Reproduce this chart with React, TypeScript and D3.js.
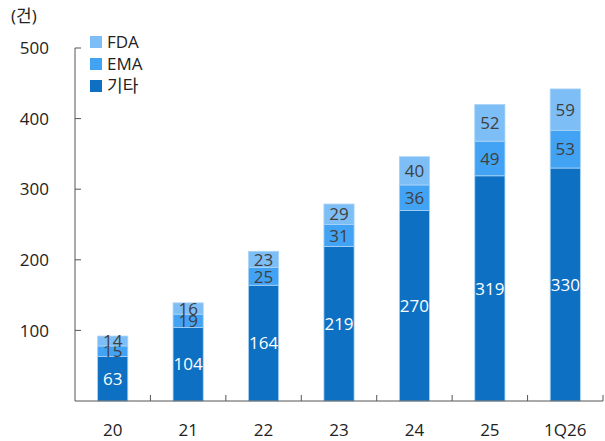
import * as d3 from "d3";
import { useEffect, useRef } from "react";

const categories = ["20", "21", "22", "23", "24", "25", "1Q26"];
const etc = [63, 104, 164, 219, 270, 319, 330];
const ema = [15, 19, 25, 31, 36, 49, 53];
const fda = [14, 16, 23, 29, 40, 52, 59];
const yTicks = [100, 200, 300, 400, 500];

const seriesNames = ["기타", "EMA", "FDA"];
const colors = ["#0e70c2", "#42a3f4", "#7ebef6"];
const labelColors = ["#ffffff", "#404040", "#404040"];

const FONT = "'Open Sans', 'Noto Sans CJK KR', sans-serif";

export default function App() {
  const svgRef = useRef<SVGSVGElement | null>(null);

  useEffect(() => {
    const width = 605;
    const height = 441;
    const margin = { top: 48, right: 2, bottom: 40, left: 75 };

    const svg = d3.select(svgRef.current);
    svg.selectAll("*").remove();
    svg.attr("width", width).attr("height", height);

    const rows = categories.map((c, i) => ({
      cat: c,
      기타: etc[i],
      EMA: ema[i],
      FDA: fda[i],
    }));
    const stacked = d3.stack<any>().keys(seriesNames)(rows);

    const x = d3
      .scaleBand()
      .domain(categories)
      .range([margin.left, width - margin.right])
      .paddingInner(0.6)
      .paddingOuter(0.3);
    const xEdge = d3
      .scaleBand()
      .domain(categories)
      .range([margin.left, width - margin.right]);
    const y = d3
      .scaleLinear()
      .domain([0, 500])
      .range([height - margin.bottom, margin.top]);

    const axisColor = "#555555";

    // bars
    stacked.forEach((layer, si) => {
      const g = svg.append("g");
      g.selectAll("rect")
        .data(layer)
        .enter()
        .append("rect")
        .attr("x", (d: any) => x(d.data.cat)!)
        .attr("width", x.bandwidth())
        .attr("y", (d) => y(d[1]))
        .attr("height", (d) => y(d[0]) - y(d[1]))
        .attr("fill", colors[si])
        .attr("stroke", "#a8d3f6")
        .attr("stroke-width", 0.8);
      g.selectAll("text")
        .data(layer)
        .enter()
        .append("text")
        .attr("x", (d: any) => x(d.data.cat)! + x.bandwidth() / 2)
        .attr("y", (d) => (y(d[0]) + y(d[1])) / 2)
        .attr("dy", "0.36em")
        .attr("text-anchor", "middle")
        .attr("font-family", FONT)
        .attr("font-size", 17)
        .attr("fill", labelColors[si])
        .text((d) => d[1] - d[0]);
    });

    // y axis
    const gy = svg.append("g");
    gy.append("line")
      .attr("x1", margin.left)
      .attr("x2", margin.left)
      .attr("y1", y(0))
      .attr("y2", y(500))
      .attr("stroke", axisColor);
    gy.selectAll("line.tick")
      .data(yTicks)
      .enter()
      .append("line")
      .attr("class", "tick")
      .attr("x1", margin.left)
      .attr("x2", margin.left + 6)
      .attr("y1", (d) => y(d))
      .attr("y2", (d) => y(d))
      .attr("stroke", axisColor);
    gy.selectAll("text")
      .data(yTicks)
      .enter()
      .append("text")
      .attr("x", 49)
      .attr("y", (d) => y(d))
      .attr("dy", "0.36em")
      .attr("text-anchor", "end")
      .attr("font-family", FONT)
      .attr("font-size", 17)
      .attr("fill", "#222")
      .text((d) => d);

    // x axis
    const gx = svg.append("g");
    gx.append("line")
      .attr("x1", margin.left)
      .attr("x2", width - margin.right)
      .attr("y1", y(0))
      .attr("y2", y(0))
      .attr("stroke", axisColor);
    gx.selectAll("line.tick")
      .data(categories)
      .enter()
      .append("line")
      .attr("class", "tick")
      .attr("x1", (d) => xEdge(d)! + xEdge.bandwidth())
      .attr("x2", (d) => xEdge(d)! + xEdge.bandwidth())
      .attr("y1", y(0))
      .attr("y2", y(0) - 6)
      .attr("stroke", axisColor);
    gx.selectAll("text")
      .data(categories)
      .enter()
      .append("text")
      .attr("x", (d) => x(d)! + x.bandwidth() / 2)
      .attr("y", 430)
      .attr("dy", "0.36em")
      .attr("text-anchor", "middle")
      .attr("font-family", FONT)
      .attr("font-size", 17)
      .attr("fill", "#222")
      .text((d) => d);

    // unit
    svg.append("text")
      .attr("x", 11)
      .attr("y", 16)
      .attr("dy", "0.36em")
      .attr("font-family", FONT)
      .attr("font-size", 17)
      .attr("fill", "#222")
      .text("(건)");

    // legend
    const legendItems = [2, 1, 0];
    const lg = svg.append("g");
    legendItems.forEach((si, i) => {
      const cy = 42 + i * 22;
      lg.append("rect")
        .attr("x", 90)
        .attr("y", cy - 6)
        .attr("width", 12)
        .attr("height", 12)
        .attr("fill", colors[si]);
      lg.append("text")
        .attr("x", 107)
        .attr("y", cy)
        .attr("dy", "0.36em")
        .attr("font-family", FONT)
        .attr("font-size", 17)
        .attr("fill", "#222")
        .text(seriesNames[si]);
    });
  }, []);

  return (
    <div style={{ position: "absolute", left: 0, top: 0 }}>
      <svg ref={svgRef} style={{ display: "block" }}></svg>
    </div>
  );
}
